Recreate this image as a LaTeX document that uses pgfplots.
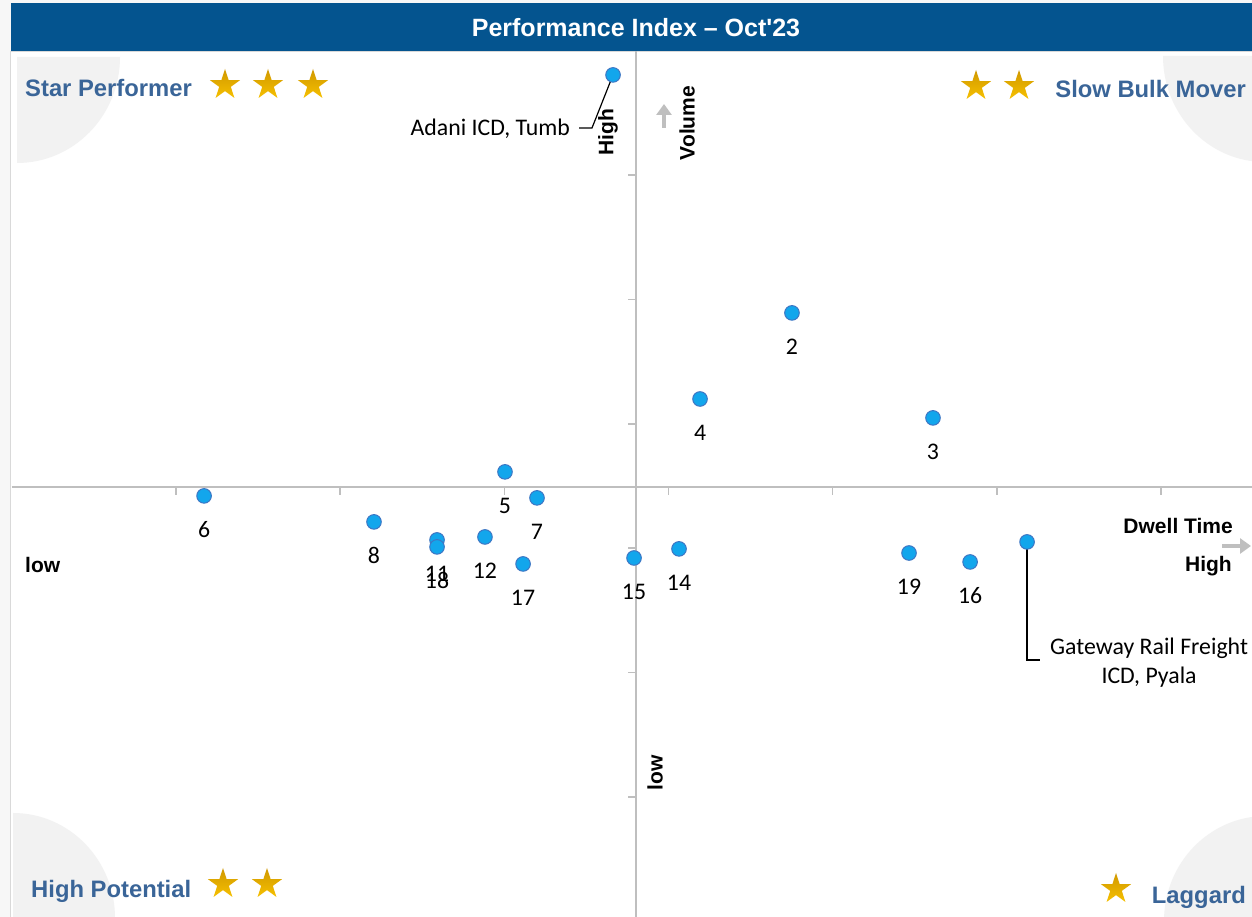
\documentclass[border=0pt]{standalone}
\usepackage{fontspec}
\setmainfont{Carlito}
\newfontfamily\arialfont{Liberation Sans}
\usepackage{pgfplots}
\pgfplotsset{compat=1.18}
\usepackage{pgfplotstable}
\usetikzlibrary{shapes.geometric, arrows.meta}
\definecolor{titleblue}{RGB}{4,84,143}
\definecolor{quadblue}{RGB}{58,101,152}
\definecolor{axisgray}{RGB}{191,191,191}
\definecolor{cornergray}{RGB}{242,242,242}
\definecolor{dotfill}{RGB}{18,166,236}
\definecolor{dotedge}{RGB}{62,118,196}
\definecolor{stardark}{RGB}{208,152,0}
\definecolor{starlight}{RGB}{246,192,0}
\tikzset{gstar/.style={star, star points=5, star point ratio=2.618, minimum size=32pt, inner sep=0pt, top color=stardark, bottom color=starlight, draw=none}}
\newcommand{\qfont}{\arialfont\bfseries\fontsize{23.8}{28}\selectfont}
\newcommand{\afont}{\arialfont\bfseries\fontsize{21}{25}\selectfont}
\newcommand{\tfont}{\arialfont\bfseries\fontsize{25}{29}\selectfont}
\newcommand{\lfont}{\fontsize{23.8}{29}\selectfont}

% x = dwell time index, y = volume index (tick spacing 1)
\pgfplotstableread{
x     y     label
4.752 4.891 2
5.611 4.047 3
4.192 4.199 4
3.004 3.613 5
1.171 3.420 6
3.199 3.404 7
2.206 3.211 8
2.590 3.066 11
2.590 3.010 18
2.882 3.090 12
3.114 2.873 17
3.790 2.921 15
4.064 2.994 14
5.465 2.961 19
5.837 2.889 16
}\numbered
\pgfplotstableread{
x     y
3.662 6.804
6.184 3.050
}\callouts

\begin{document}
\begin{tikzpicture}[x=1pt,y=1pt]
\useasboundingbox (0,0) rectangle (1252,917);
\fill[black!3] (0,0) rectangle (1252,917);
\fill[white] (11,0) rectangle (1252,866);
\begin{scope}
\clip (0,0) rectangle (1252,917);
\fill[cornergray] (17,860) -- ++(103,0) arc[start angle=0,end angle=-90,x radius=103,y radius=106] -- cycle;
\fill[cornergray] (13,-1) -- ++(102,0) arc[start angle=0,end angle=90,x radius=102,y radius=105] -- cycle;
\fill[cornergray] (1265,861) -- ++(-102,0) arc[start angle=180,end angle=270,x radius=102,y radius=106] -- cycle;
\fill[cornergray] (1266,-4) -- ++(-102,0) arc[start angle=180,end angle=90,x radius=102,y radius=105] -- cycle;
\end{scope}
\draw[black!15, line width=1pt] (10.5,0) -- (10.5,865.5) -- (1252,865.5);

\begin{axis}[at={(11.83pt,0pt)}, anchor=south west, scale only axis,
  width=1240.17pt, height=866.45pt,
  xmin=0, xmax=7.5542, ymin=0.035, ymax=7.0,
  hide axis, clip=false]
\draw[axisgray, line width=1.6pt] (axis cs:0,3.49) -- (axis cs:7.5542,3.49);
\draw[axisgray, line width=1.6pt] (axis cs:3.802,0.035) -- (axis cs:3.802,7.0);
\pgfplotsinvokeforeach{1,2,3,4,5,6,7}{
  \draw[axisgray, line width=1.6pt] (axis cs:#1,3.49) -- ++(0pt,-8pt);
}
\pgfplotsinvokeforeach{1,2,3,4,5,6}{
  \draw[axisgray, line width=1.6pt] (axis cs:3.802,#1) -- ++(-8pt,0pt);
}
\addplot[only marks, mark=*, mark size=7.3pt,
  mark options={fill=dotfill, draw=dotedge, line width=1pt},
  nodes near coords, point meta=explicit symbolic,
  every node near coord/.append style={anchor=center, yshift=-34pt, inner sep=0pt, font=\lfont, text=black}]
  table[x=x, y=y, meta=label] {\numbered};
\addplot[only marks, mark=*, mark size=7.3pt,
  mark options={fill=dotfill, draw=dotedge, line width=1pt}]
  table[x=x, y=y] {\callouts};
% callouts
\draw[black, line width=1.2pt] (axis cs:3.662,6.804) -- ++(-21pt,-53pt) -- ++(-13pt,0pt);
\node[anchor=base east, inner sep=0pt, font=\lfont] at (axis cs:3.662,6.804) [xshift=-43pt, yshift=-61pt] {Adani ICD, Tumb};
\draw[black, line width=1.2pt] (axis cs:6.184,3.050) -- ++(0pt,-118pt) -- ++(13pt,0pt);
\node[align=center, inner sep=0pt, font=\lfont] at (axis cs:6.184,3.050) [xshift=122pt, yshift=-121pt] {Gateway Rail Freight\\ICD, Pyala};
\end{axis}

% title bar
\fill[titleblue] (11,866) rectangle (1252,914);
\node[text=white, font=\tfont] at (636,889) {Performance Index – Oct\textquotesingle23};

% quadrant labels
\node[anchor=base west, text=quadblue, font=\qfont, inner sep=0pt] at (25,820) {Star Performer};
\node[anchor=base east, text=quadblue, font=\qfont, inner sep=0pt] at (1246,819) {Slow Bulk Mover};
\node[anchor=base west, text=quadblue, font=\qfont, inner sep=0pt] at (31,19) {High Potential};
\node[anchor=base east, text=quadblue, font=\qfont, inner sep=0pt] at (1246,13) {Laggard};
\node[gstar] at (225,832) {};
\node[gstar] at (268,832) {};
\node[gstar] at (313,832) {};
\node[gstar] at (976,831) {};
\node[gstar] at (1019,831) {};
\node[gstar] at (223,33) {};
\node[gstar] at (267,33) {};
\node[gstar] at (1116,28) {};

% axis annotations
\node[anchor=base east, font=\afont, inner sep=0pt] at (1233,383) {Dwell Time};
\node[anchor=base east, font=\afont, inner sep=0pt] at (1232,345) {High};
\node[anchor=base west, font=\afont, inner sep=0pt] at (25,344) {low};
\draw[axisgray, line width=4pt, -{Triangle[length=11pt,width=15pt]}] (1222,371) -- (1251,371);
\node[rotate=90, font=\afont, inner sep=0pt] at (608,785) {High};
\node[rotate=90, font=\afont, inner sep=0pt] at (687,794) {Volume};
\draw[axisgray, line width=4pt, -{Triangle[length=11pt,width=15pt]}] (664,789) -- (664,813);
\node[rotate=90, font=\afont, inner sep=0pt] at (655,144) {low};
\end{tikzpicture}
\end{document}
